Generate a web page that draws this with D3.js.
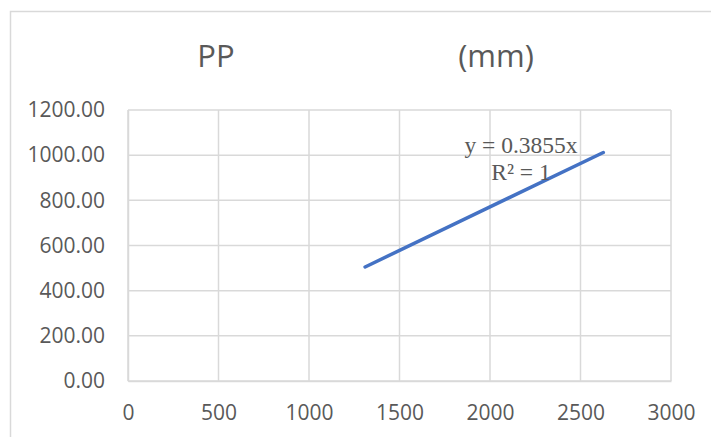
<!DOCTYPE html>
<html><head><meta charset="utf-8">
<script src="https://cdn.jsdelivr.net/npm/d3@7"></script>
<style>html,body{margin:0;padding:0;background:#fff;}</style>
</head><body>
<svg id="c" width="711" height="437"></svg>
<script>
const xTicks = [0, 500, 1000, 1500, 2000, 2500, 3000];
const yTicks = [0, 200, 400, 600, 800, 1000, 1200];
const seriesX = [1310, 2626];
const seriesY = [505, 1012];
const titleParts = ["PP", "(mm)"];
const trendLabels = ["y = 0.3855x", "R² = 1"];

const svg = d3.select("#c");
const W = 711, H = 437;
const m = {left: 128, right: 40, top: 110, bottom: 56};
const x = d3.scaleLinear().domain([0, 3000]).range([m.left, W - m.right]);
const y = d3.scaleLinear().domain([0, 1200]).range([H - m.bottom, m.top]);
const grid = "#d9d9d9", txt = "#595959";

svg.append("rect").attr("x", 10.5).attr("y", 11.5).attr("width", 720).attr("height", 440)
  .attr("fill", "#fff").attr("stroke", grid).attr("stroke-width", 1.5);

// gridlines
svg.append("g").selectAll("line").data(yTicks).join("line")
  .attr("x1", x(0)).attr("x2", x(3000)).attr("y1", d => y(d)).attr("y2", d => y(d))
  .attr("stroke", grid).attr("stroke-width", 1.5);
svg.append("g").selectAll("line").data(xTicks).join("line")
  .attr("y1", y(0)).attr("y2", y(1200)).attr("x1", d => x(d)).attr("x2", d => x(d))
  .attr("stroke", grid).attr("stroke-width", 1.5);

// axes
const yAxis = d3.axisLeft(y).tickValues(yTicks).tickFormat(d3.format(".2f")).tickSize(0).tickPadding(23);
const gy = svg.append("g").attr("transform", `translate(${x(0)},0)`).call(yAxis);
gy.select(".domain").attr("stroke", grid).attr("stroke-width", 1.5);
gy.selectAll("text").attr("fill", txt).style("font-family", "'Open Sans'").style("font-size", "21px");

const xAxis = d3.axisBottom(x).tickValues(xTicks).tickFormat(d3.format("d")).tickSize(0).tickPadding(24);
const gx = svg.append("g").attr("transform", `translate(0,${y(0)})`).call(xAxis);
gx.select(".domain").attr("stroke", grid).attr("stroke-width", 1.5);
gx.selectAll("text").attr("fill", txt).style("font-family", "'Open Sans'").style("font-size", "21px");

// series line
const pts = seriesX.map((v, i) => [v, seriesY[i]]);
svg.append("path").datum(pts)
  .attr("d", d3.line().x(d => x(d[0])).y(d => y(d[1])))
  .attr("fill", "none").attr("stroke", "#4472C4").attr("stroke-width", 3.5).attr("stroke-linecap", "round");

// title
const tpos = [216, 496];
svg.append("g").selectAll("text").data(titleParts).join("text")
  .attr("x", (d, i) => tpos[i]).attr("y", 67).attr("text-anchor", "middle")
  .attr("fill", txt).style("font-family", "'Open Sans'").style("font-size", "31px").text(d => d);

// trendline label
svg.append("g").selectAll("text").data(trendLabels).join("text")
  .attr("x", 521).attr("y", (d, i) => 153 + i * 27).attr("text-anchor", "middle")
  .attr("fill", txt).style("font-family", "'Liberation Serif'").style("font-size", "23.5px").text(d => d);
</script>
</body></html>
